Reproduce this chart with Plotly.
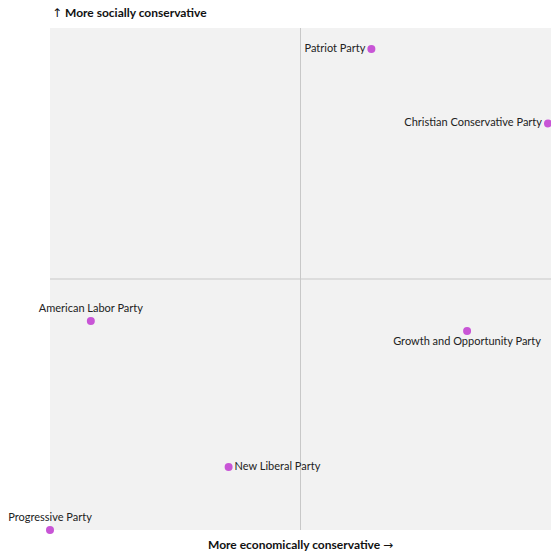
import plotly.graph_objects as go

parties = ["Patriot Party", "Christian Conservative Party", "American Labor Party",
           "Growth and Opportunity Party", "New Liberal Party", "Progressive Party"]
economic = [0.283, 0.988, -0.837, 0.665, -0.287, -1.0]
social = [0.916, 0.62, -0.167, -0.207, -0.749, -1.0]
text_pos = ["middle left", "middle left", "top center", "bottom center", "middle right", "top center"]

FONT = "Lato, Inter, sans-serif"

fig = go.Figure()
fig.add_trace(go.Scatter(
    x=economic, y=social, mode="markers+text", text=parties,
    textposition=text_pos,
    marker=dict(size=8, color="#c855d6"),
    textfont=dict(family=FONT, size=11, color="#222"),
    cliponaxis=False, hoverinfo="text",
))

fig.add_shape(type="line", x0=0, x1=0, y0=-1, y1=1, line=dict(color="#c8c8c8", width=1), layer="below")
fig.add_shape(type="line", x0=-1, x1=1, y0=0, y1=0, line=dict(color="#c8c8c8", width=1), layer="below")

fig.add_annotation(text="<span style='font-family:DejaVu Sans'>↑</span><b> More socially conservative</b>",
                   xref="paper", yref="paper",
                   x=0, y=1, yshift=16, xanchor="left", yanchor="middle", showarrow=False,
                   font=dict(family=FONT, size=12, color="#111"))
fig.add_annotation(text="<b>More economically conservative </b><span style='font-family:DejaVu Sans'>→</span>",
                   xref="paper", yref="paper",
                   x=0.5, y=0, yshift=-14, xanchor="center", yanchor="middle", showarrow=False,
                   font=dict(family=FONT, size=12, color="#111"))

fig.update_xaxes(range=[-1, 1], showgrid=False, zeroline=False, showticklabels=False, fixedrange=True)
fig.update_yaxes(range=[-1, 1], showgrid=False, zeroline=False, showticklabels=False, fixedrange=True)
fig.update_layout(
    width=551, height=552, margin=dict(l=50, r=0, t=28, b=22),
    plot_bgcolor="#f2f2f2", paper_bgcolor="white", showlegend=False,
)
fig.write_html("out.html", config={"displayModeBar": False},
               post_script="document.body.style.margin='0';document.body.style.overflow='hidden';")
